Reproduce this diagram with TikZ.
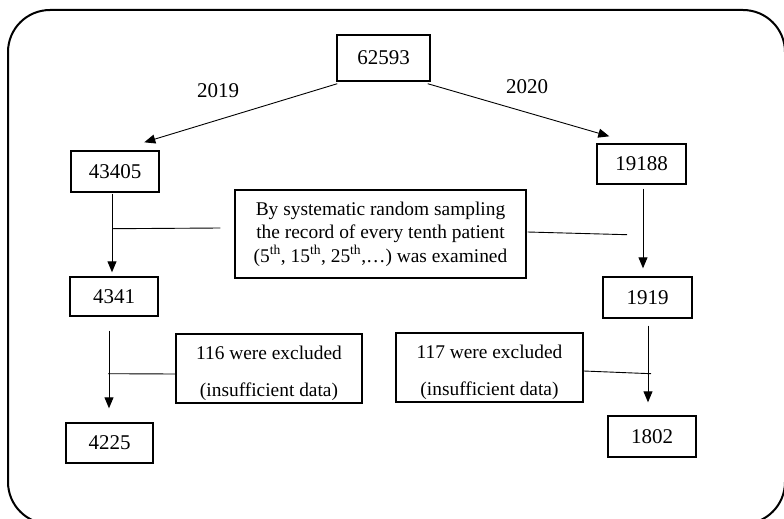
\documentclass[tikz,border=0pt]{standalone}
\usepackage{fontspec}
\setmainfont{Liberation Serif}
\usetikzlibrary{arrows.meta,calc}
\begin{document}
\begin{tikzpicture}[x=1pt,y=-1pt,
  numbox/.style={draw,line width=1.4pt,inner sep=0pt,minimum width=#1,minimum height=40pt,
    font=\fontsize{21}{24}\selectfont},
  textbox/.style={draw,line width=1.4pt,inner sep=0pt,align=center,
    font=\fontsize{19.4}{23.5}\selectfont},
  boxtext/.style={inner sep=0pt,align=center,font=\fontsize{19.4}{37}\selectfont},
  flow/.style={line width=0.9pt,-{Triangle[length=11pt,width=9pt]}},
  tie/.style={line width=0.9pt},
  yearlabel/.style={font=\fontsize{21}{24}\selectfont}]
\useasboundingbox (0,0) rectangle (784,519);
\begin{scope}
\clip (0,0) rectangle (784,519);
\draw[line width=2pt,rounded corners=42pt] (8,10) rectangle (785,524);
\end{scope}

% boxes
\node[numbox=93pt,minimum height=46pt] (top) at (383.5,58) {62593};
\node[numbox=88pt,minimum height=41pt] (a1) at (115,171.5) {43405};
\node[numbox=89pt] (b1) at (641.5,164) {19188};
\node[textbox,minimum width=291pt,minimum height=88pt] (mid) at (380.5,234)
  {By systematic random sampling\\the record of every tenth patient\\
   (5\textsuperscript{th}, 15\textsuperscript{th}, 25\textsuperscript{th},\dots) was examined};
\node[numbox=88pt,minimum height=39pt] (a2) at (114,296.5) {4341};
\node[numbox=89pt,minimum height=41pt] (b2) at (647.5,297.5) {1919};
\node[textbox,minimum width=186pt,minimum height=69pt] (exa) at (269,368.5) {};
\node[boxtext] (exatext) at ($(exa.center)+(0,5)$) {116 were excluded\\(insufficient data)};
\node[textbox,minimum width=187pt,minimum height=69pt] (exb) at (489.5,367.5) {};
\node[boxtext] (exbtext) at ($(exb.center)+(0,5)$) {117 were excluded\\(insufficient data)};
\node[numbox=87pt] (a3) at (109.5,443) {4225};
\node[numbox=88pt,minimum height=41pt] (b3) at (652,436.5) {1802};

% year labels
\node[yearlabel] (y19) at (218,91) {2019};
\node[yearlabel] (y20) at (527,87) {2020};

% split by year
\draw[flow] ($(top.south west)+(1,2)$) -- ($(a1.north west)+(74,-8)$);
\draw[flow] ($(top.south east)+(-3,2)$) -- ($(b1.north west)+(13,-7)$);

% left branch
\draw[flow] ($(a1.south)+(-3,1)$) -- ($(a2.north)+(-2,-4)$);
\coordinate (ja) at ($(a1.south)+(-2,36)$);
\draw[tie] (ja) -- ($(mid.west)+(-14,-6)$);
\draw[flow] ($(a2.south)+(-5,14)$) -- ($(a3.north)+(-0.5,-14)$);
\coordinate (jb) at ($(a2.south)+(-6,57)$);
\draw[tie] (jb) -- ($(exa.west)+(0,5.5)$);

% right branch
\draw[flow] ($(b1.south)+(1.5,4)$) -- ($(b2.north)+(-4.5,-8)$);
\draw[tie] ($(mid.east)+(1,-2)$) -- ($(b1.south)+(-14.5,50)$);
\draw[flow] ($(b2.south)+(0.5,7)$) -- ($(b3.north)+(-4,-13)$);
\draw[tie] ($(exb.east)+(0,3.5)$) -- ($(b2.south)+(3.5,55)$);
\end{tikzpicture}
\end{document}
